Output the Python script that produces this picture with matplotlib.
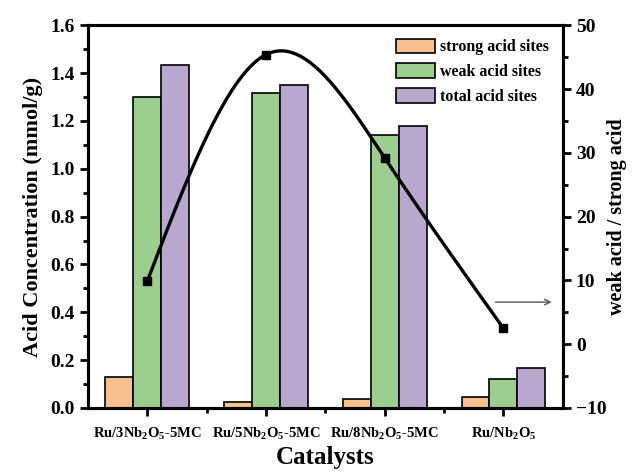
import matplotlib
matplotlib.use("Agg")
import matplotlib.pyplot as plt
import numpy as np
from matplotlib.ticker import MultipleLocator, FixedLocator

plt.rcParams["font.family"] = ["Liberation Serif", "DejaVu Serif"]
plt.rcParams["font.weight"] = "bold"
plt.rcParams["mathtext.default"] = "regular"

CATALYSTS = [r"Ru/3Nb$_2$O$_5$-5MC", r"Ru/5Nb$_2$O$_5$-5MC", r"Ru/8Nb$_2$O$_5$-5MC", r"Ru/Nb$_2$O$_5$"]
STRONG = [0.13, 0.027, 0.037, 0.047]
WEAK = [1.30, 1.316, 1.14, 0.12]
TOTAL = [1.435, 1.348, 1.18, 0.168]
RATIO = [9.9, 45.4, 29.2, 2.5]

COLORS = ["#F9C08F", "#9BCE8F", "#B8A7CF"]
LABELS = ["strong acid sites", "weak acid sites", "total acid sites"]


def natural_spline(x, y, n=300):
    x = np.asarray(x, float)
    y = np.asarray(y, float)
    h = np.diff(x)
    m = len(x)
    a = np.zeros((m, m))
    b = np.zeros(m)
    a[0, 0] = a[-1, -1] = 1.0
    for i in range(1, m - 1):
        a[i, i - 1] = h[i - 1]
        a[i, i] = 2 * (h[i - 1] + h[i])
        a[i, i + 1] = h[i]
        b[i] = 6 * ((y[i + 1] - y[i]) / h[i] - (y[i] - y[i - 1]) / h[i - 1])
    c = np.linalg.solve(a, b)
    xs = np.linspace(x[0], x[-1], n)
    idx = np.clip(np.searchsorted(x, xs) - 1, 0, m - 2)
    x0, x1 = x[idx], x[idx + 1]
    hh = x1 - x0
    t0, t1 = x1 - xs, xs - x0
    ys = (c[idx] * t0 ** 3 + c[idx + 1] * t1 ** 3) / (6 * hh) \
        + (y[idx] / hh - c[idx] * hh / 6) * t0 + (y[idx + 1] / hh - c[idx + 1] * hh / 6) * t1
    return xs, ys


def main() -> None:
    fig = plt.figure(figsize=(6.33, 4.72), dpi=100)
    ax = fig.add_axes([0.139, 0.1356, 0.750, 0.811])
    x = np.arange(len(CATALYSTS))
    width = 0.235
    for k, (vals, color, label) in enumerate(zip([STRONG, WEAK, TOTAL], COLORS, LABELS)):
        ax.bar(x + (k - 1) * width, vals, width, color=color, edgecolor="black", linewidth=1.2, label=label, zorder=2)

    ax.set_xlim(-0.5, 3.5)
    ax.set_ylim(0, 1.6)
    ax.yaxis.set_major_locator(MultipleLocator(0.2))
    ax.yaxis.set_minor_locator(MultipleLocator(0.1))
    ax.set_xticks(x)
    ax.set_xticklabels(CATALYSTS, fontsize=10.5, fontweight="bold")
    ax.xaxis.set_minor_locator(FixedLocator([0.5, 1.5, 2.5]))
    ax.tick_params(axis="both", which="both", direction="out", width=2)
    ax.tick_params(axis="both", which="major", length=6)
    ax.tick_params(axis="both", which="minor", length=3.5)
    ax.tick_params(axis="y", labelsize=14)
    ax.tick_params(axis="x", pad=7)
    for lab in ax.get_yticklabels():
        lab.set_fontweight("bold")
    for sp in ax.spines.values():
        sp.set_linewidth(2.2)
    ax.set_ylabel("Acid Concentration (mmol/g)", fontsize=16, fontweight="bold", labelpad=5)
    ax.set_xlabel("Catalysts", fontsize=18, fontweight="bold", labelpad=3)

    ax.legend(loc="upper right", bbox_to_anchor=(0.99, 0.99), frameon=False,
              handlelength=2.4, handleheight=1.05, handletextpad=0.3, labelspacing=0.5,
              borderaxespad=0.2, prop={"weight": "bold", "size": 11.5})

    ax2 = ax.twinx()
    ax2.set_ylim(-10, 50)
    ax2.yaxis.set_major_locator(MultipleLocator(10))
    ax2.yaxis.set_minor_locator(MultipleLocator(5))
    ax2.tick_params(axis="y", which="both", direction="out", width=2, labelsize=14)
    ax2.tick_params(axis="y", which="major", length=6)
    ax2.tick_params(axis="y", which="minor", length=3.5)
    for lab in ax2.get_yticklabels():
        lab.set_fontweight("bold")
    for sp in ax2.spines.values():
        sp.set_linewidth(2.2)
    xs, ys = natural_spline(x, RATIO)
    ax2.plot(xs, ys, color="black", linewidth=2.4, zorder=3)
    ax2.plot(x, RATIO, linestyle="none", marker="s", markersize=6, color="black", zorder=4)
    ax2.annotate("", xy=(3.43, 6.6), xytext=(2.91, 6.6),
                 arrowprops=dict(arrowstyle="->", color="#555555", linewidth=1.0))
    ax2.set_ylabel("weak acid / strong acid", fontsize=14.5, fontweight="bold", labelpad=0)

    fig.savefig("out.png", dpi=100)
    plt.close(fig)


if __name__ == "__main__":
    main()
